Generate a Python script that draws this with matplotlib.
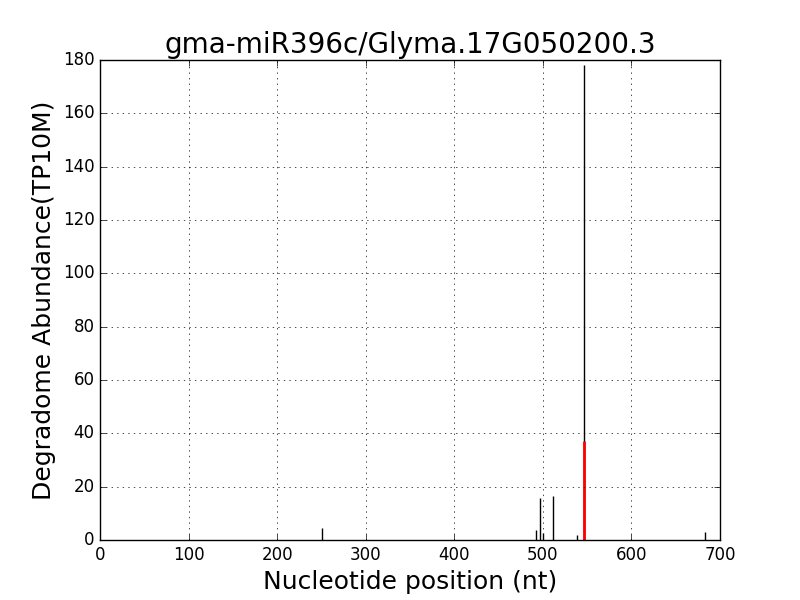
import matplotlib
matplotlib.use('Agg')
import matplotlib.pyplot as plt

plt.style.use('classic')

# degradome reads (position, abundance)
positions = [251, 492, 497, 500, 511, 539, 546, 683]
abundance = [4.6, 3.8, 15.6, 2.5, 16.4, 1.8, 178, 2.9]

# cleavage site
site_pos = [547]
site_abund = [37.2]

fig, ax = plt.subplots(figsize=(8, 6))
ax.vlines(positions, 0, abundance, colors='black', linewidth=1)
ax.vlines(site_pos, 0, site_abund, colors='red', linewidth=2)

ax.set_xlim(0, 700)
ax.set_ylim(0, 180)
ax.set_title('gma-miR396c/Glyma.17G050200.3', fontsize=20)
ax.set_xlabel('Nucleotide position (nt)', fontsize=18)
ax.set_ylabel('Degradome Abundance(TP10M)', fontsize=18)
ax.grid(True)

fig.savefig('out.png', dpi=100)
